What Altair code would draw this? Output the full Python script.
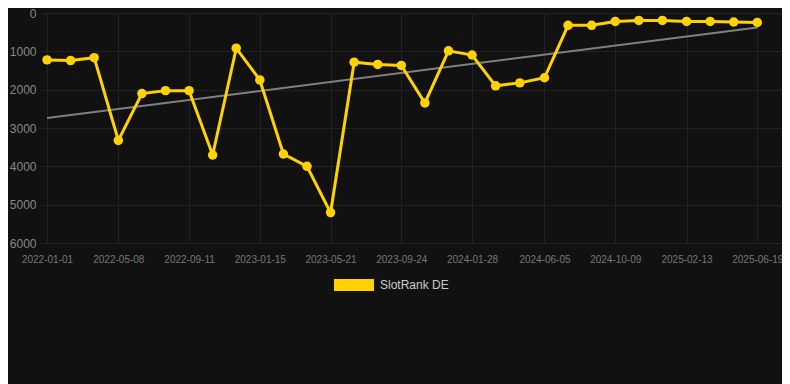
import altair as alt
import pandas as pd

dates = [
    "2022-01-01", "2022-02-12", "2022-03-26",
    "2022-05-08", "2022-06-19", "2022-07-31",
    "2022-09-11", "2022-10-23", "2022-12-04",
    "2023-01-15", "2023-02-26", "2023-04-09",
    "2023-05-21", "2023-07-02", "2023-08-13",
    "2023-09-24", "2023-11-05", "2023-12-17",
    "2024-01-28", "2024-03-10", "2024-04-22",
    "2024-06-05", "2024-07-17", "2024-08-28",
    "2024-10-09", "2024-11-20", "2025-01-01",
    "2025-02-13", "2025-03-27", "2025-05-08",
    "2025-06-19",
]
ranks = [
    1223, 1240, 1165, 3324, 2101, 2025, 2025, 3704, 919, 1747,
    3678, 4000, 5207, 1283, 1342, 1367, 2347, 987, 1096, 1899,
    1823, 1689, 321, 321, 220, 195, 195, 220, 220, 235, 246,
]
series_name = "SlotRank DE"
tick_dates = [
    (2022, 1, 1), (2022, 5, 8), (2022, 9, 11), (2023, 1, 15), (2023, 5, 21),
    (2023, 9, 24), (2024, 1, 28), (2024, 6, 5), (2024, 10, 9), (2025, 2, 13),
    (2025, 6, 19),
]
y_ticks = [0, 1000, 2000, 3000, 4000, 5000, 6000]

df = pd.DataFrame({"date": dates, "rank": ranks, "series": series_name})

YELLOW = "#FFD200"

def dt(y, m, d, h=0):
    return alt.DateTime(year=y, month=m, date=d, hours=h, utc=True)

x_enc = alt.X(
    "date:T",
    scale=alt.Scale(type="utc", domain=[dt(2021, 12, 19, 12), dt(2025, 8, 2)]),
    axis=alt.Axis(
        values=[dt(*t) for t in tick_dates],
        format="%Y-%m-%d",
        title=None,
        labelColor="#777777",
        labelFontSize=10,
        labelFont="Liberation Sans",
        labelPadding=11,
        grid=True,
        gridColor="#222222",
        domain=False,
        ticks=False,
    ),
)
y_enc = alt.Y(
    "rank:Q",
    scale=alt.Scale(domain=[0, 6000], reverse=True, nice=False, zero=False),
    axis=alt.Axis(
        values=y_ticks,
        format="d",
        title=None,
        labelColor="#888888",
        labelFontSize=12,
        labelFont="Liberation Sans",
        labelPadding=4,
        grid=True,
        gridColor="#222222",
        domain=False,
        ticks=False,
    ),
)

base = alt.Chart(df)

trend = base.transform_regression("date", "rank", method="linear").mark_line(
    color="#808080", strokeWidth=2
).encode(x=x_enc, y=y_enc)

line = base.mark_line(color=YELLOW, strokeWidth=3).encode(x=x_enc, y=y_enc)

points = base.mark_circle(size=90, opacity=1).encode(
    x=x_enc,
    y=y_enc,
    color=alt.Color(
        "series:N",
        scale=alt.Scale(domain=[series_name], range=[YELLOW]),
        legend=alt.Legend(
            title=None,
            orient="none",
            legendX=294,
            legendY=252,
            symbolType="M-1,-0.3L1,-0.3L1,0.3L-1,0.3Z",
            symbolSize=1600,
            symbolStrokeWidth=0,
            labelColor="#cccccc",
            labelFontSize=12,
            labelFont="Liberation Sans",
            labelOffset=6,
        ),
    ),
)

chart = (
    alt.layer(trend, line, points)
    .properties(
        width=742,
        height=230,
        background="#111111",
        autosize=alt.AutoSizeParams(type="none"),
        padding={"left": 32, "top": 5, "right": 0, "bottom": 141},
    )
    .configure_view(stroke=None)
)

chart.save("out.html", embed_options={"renderer": "svg", "actions": False})
